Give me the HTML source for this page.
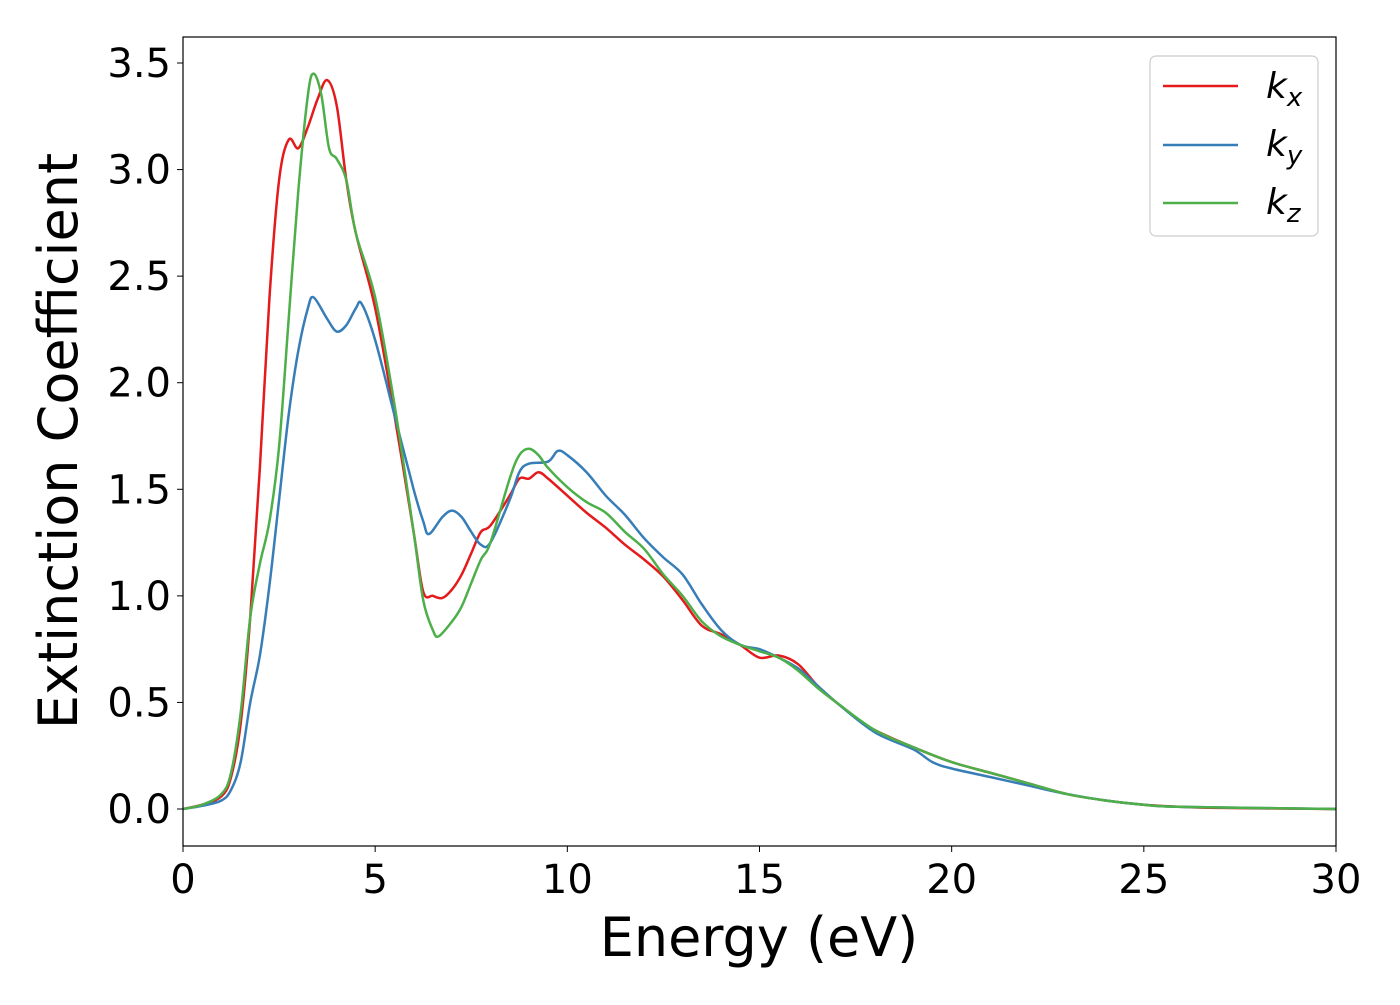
<!DOCTYPE html>
<html><head><meta charset="utf-8"><style>
body{margin:0;background:#fff;}
svg text{font-family:"DejaVu Sans","Liberation Sans",sans-serif;fill:#000;}
</style></head><body>
<svg width="1400" height="1000" viewBox="0 0 1400 1000" id="chart">
<rect width="1400" height="1000" fill="#fff"/>
<g id="series"></g>
<rect x="183" y="37" width="1153" height="809" fill="none" stroke="#000" stroke-width="1.2"/>
<g id="xt"></g>
<g id="yt"></g>
<text x="759" y="956" font-size="54" text-anchor="middle">Energy (eV)</text>
<text transform="translate(77,441) rotate(-90)" font-size="54" text-anchor="middle">Extinction Coefficient</text>
<g>
<rect x="1150" y="56" width="168" height="180" rx="6" fill="#fff" stroke="#ccc" stroke-width="1.2"/>
<line x1="1163" y1="86" x2="1238" y2="86" stroke="#e41a1c" stroke-width="2.5"/>
<line x1="1163" y1="145" x2="1238" y2="145" stroke="#377eb8" stroke-width="2.5"/>
<line x1="1163" y1="203" x2="1238" y2="203" stroke="#4daf4a" stroke-width="2.5"/>
<text x="1266" y="98" font-size="36" font-style="italic">k<tspan font-size="26" dy="8">x</tspan></text>
<text x="1266" y="156" font-size="36" font-style="italic">k<tspan font-size="26" dy="8">y</tspan></text>
<text x="1266" y="214" font-size="36" font-style="italic">k<tspan font-size="26" dy="8">z</tspan></text>
</g>
</svg>
<script>
const xTicks=[0,5,10,15,20,25,30];
const yTicks=[0.0,0.5,1.0,1.5,2.0,2.5,3.0,3.5];
const kxE=[0,0.5,1,1.25,1.5,1.75,2,2.25,2.5,2.75,3,3.25,3.5,3.75,4,4.25,4.5,5,5.5,6,6.25,6.5,6.75,7,7.25,7.5,7.75,8,8.5,8.75,9,9.25,9.5,10,10.5,11,11.5,12,12.5,13,13.5,14,14.5,15,15.5,16,16.5,17,17.5,18,19,20,21,22,23,24,25,26,27,30];
const kxV=[0,0.02,0.06,0.15,0.4,0.9,1.6,2.4,2.95,3.14,3.1,3.2,3.33,3.42,3.3,2.95,2.7,2.35,1.85,1.3,1.02,1.0,0.99,1.03,1.1,1.2,1.3,1.33,1.47,1.55,1.55,1.58,1.55,1.47,1.39,1.32,1.24,1.17,1.09,0.98,0.86,0.82,0.77,0.71,0.72,0.68,0.58,0.5,0.43,0.37,0.29,0.22,0.17,0.12,0.07,0.04,0.02,0.01,0.005,0];
const kyE=[0,0.5,1,1.25,1.5,1.75,2,2.25,2.5,2.75,3,3.25,3.4,3.75,4,4.25,4.5,4.65,5,5.5,6,6.25,6.4,6.75,7,7.25,7.5,7.75,8,8.5,8.75,9,9.5,9.75,10,10.5,11,11.5,12,12.5,13,13.5,14,14.5,15,15.5,16,16.5,17,18,19,19.5,20,21,22,23,24,25,26,30];
const kyV=[0,0.015,0.04,0.09,0.22,0.5,0.72,1.05,1.45,1.85,2.15,2.35,2.4,2.3,2.24,2.27,2.35,2.37,2.2,1.85,1.5,1.35,1.29,1.37,1.4,1.37,1.3,1.24,1.25,1.45,1.58,1.62,1.63,1.68,1.66,1.58,1.47,1.38,1.27,1.18,1.1,0.96,0.84,0.77,0.75,0.71,0.66,0.58,0.5,0.36,0.28,0.22,0.19,0.15,0.11,0.07,0.04,0.02,0.01,0];
const kzE=[0,0.5,1,1.25,1.5,1.75,2,2.25,2.5,2.75,3,3.25,3.4,3.6,3.8,4,4.25,4.5,5,5.5,6,6.25,6.5,6.65,7,7.25,7.5,7.75,8,8.5,8.75,9,9.25,9.5,10,10.5,11,11.5,12,12.5,13,13.5,14,14.5,15,15.5,16,16.5,17,18,19,20,21,22,23,24,25,26,30];
const kzV=[0,0.02,0.07,0.17,0.45,0.9,1.15,1.35,1.7,2.3,2.9,3.35,3.45,3.35,3.1,3.05,2.95,2.7,2.4,1.9,1.3,0.98,0.84,0.81,0.88,0.95,1.06,1.17,1.25,1.55,1.66,1.69,1.66,1.6,1.51,1.44,1.39,1.3,1.22,1.1,1.0,0.88,0.81,0.77,0.74,0.71,0.65,0.57,0.5,0.37,0.29,0.22,0.17,0.12,0.07,0.04,0.02,0.01,0];
const X0=183,X1=1336,YB=809,YT=63;
function sx(v){return X0+(v-0)/30*(X1-X0);}
function sy(v){return YB-v/3.5*(YB-YT);}
const NS='http://www.w3.org/2000/svg';
function pathFor(xs,ys){
  const p=xs.map((x,i)=>[sx(x),sy(ys[i])]);
  let d='M'+p[0][0]+','+p[0][1];
  for(let i=0;i<p.length-1;i++){
    const a=p[Math.max(0,i-1)],b=p[i],c=p[i+1],e=p[Math.min(p.length-1,i+2)];
    const c1=[b[0]+(c[0]-a[0])/6,b[1]+(c[1]-a[1])/6];
    const c2=[c[0]-(e[0]-b[0])/6,c[1]-(e[1]-b[1])/6];
    d+=' C'+c1[0]+','+c1[1]+' '+c2[0]+','+c2[1]+' '+c[0]+','+c[1];
  }
  return d;
}
const g=document.getElementById('series');
[[kxE,kxV,'#e41a1c','kx'],[kyE,kyV,'#377eb8','ky'],[kzE,kzV,'#4daf4a','kz']].forEach(s=>{
  const el=document.createElementNS(NS,'path');
  el.setAttribute('d',pathFor(s[0],s[1]));
  el.setAttribute('fill','none');el.setAttribute('stroke',s[2]);el.setAttribute('stroke-width','2.5');
  
  
  g.appendChild(el);
});
const xt=document.getElementById('xt');
xTicks.forEach(v=>{
  const l=document.createElementNS(NS,'line');
  l.setAttribute('x1',sx(v));l.setAttribute('x2',sx(v));l.setAttribute('y1',846);l.setAttribute('y2',852);l.setAttribute('stroke','#000');
  
  
  xt.appendChild(l);
  const t=document.createElementNS(NS,'text');
  t.setAttribute('x',sx(v));t.setAttribute('y',893);t.setAttribute('font-size','40');t.setAttribute('text-anchor','middle');
  t.textContent=v;
  
  
  xt.appendChild(t);
});
const yt=document.getElementById('yt');
yTicks.forEach(v=>{
  const l=document.createElementNS(NS,'line');
  l.setAttribute('x1',177);l.setAttribute('x2',183);l.setAttribute('y1',sy(v));l.setAttribute('y2',sy(v));l.setAttribute('stroke','#000');
  
  
  yt.appendChild(l);
  const t=document.createElementNS(NS,'text');
  t.setAttribute('x',171);t.setAttribute('y',sy(v)+14);t.setAttribute('font-size','40');t.setAttribute('text-anchor','end');
  t.textContent=v.toFixed(1);
  
  
  yt.appendChild(t);
});
</script>
</body></html>
